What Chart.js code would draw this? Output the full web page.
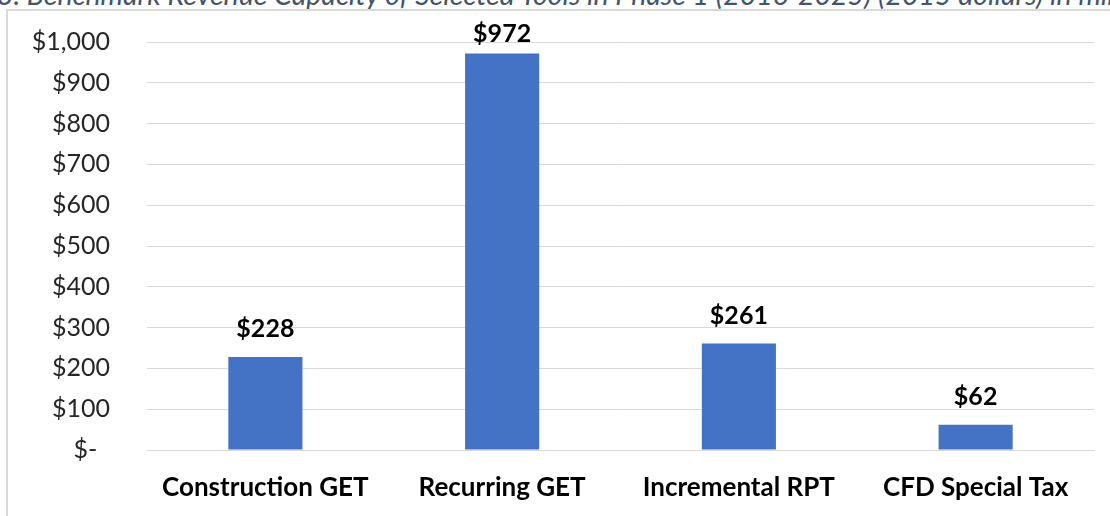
<!DOCTYPE html>
<html>
<head>
<meta charset="utf-8">
<script src="https://cdn.jsdelivr.net/npm/chart.js@4"></script>
<style>
  html, body { margin: 0; padding: 0; background: #fff; overflow: hidden; }
  body { width: 1110px; height: 516px; position: relative; }
  .caption {
    position: absolute; left: -3px; top: -23px; white-space: nowrap;
    font-family: Lato, "Open Sans", sans-serif; font-style: italic; font-size: 28.5px;
    line-height: 1.2; color: #44546A;
  }
  .frame {
    position: absolute; left: 6px; top: 9px; width: 1200px; height: 600px;
    border: 2px solid #D9D9D9;
  }
  .wrap { position: absolute; left: 0; top: 0; width: 1110px; height: 516px; }
</style>
</head>
<body>
<div class="caption">3. Benchmark Revenue Capacity of Selected Tools in Phase 1 (2016-2025) (2015 dollars) in millions</div>
<div class="frame"></div>
<div class="wrap"><canvas id="revenueChart"></canvas></div>
<script>
// Revenue capacity by tool, millions of 2015 dollars
const tools = ['Construction GET', 'Recurring GET', 'Incremental RPT', 'CFD Special Tax'];
const capacity = [228, 972, 261, 62];
const yTicks = [0, 100, 200, 300, 400, 500, 600, 700, 800, 900, 1000];

const fontFamily = 'Lato, "Open Sans", sans-serif';

function dollars(v) {
    if (v === 0) return '$-  ';
    return '$' + v.toLocaleString('en-US');
}

// Bold dollar labels above each bar, kept inside the plot area
const barLabels = {
    id: 'barLabels',
    afterDatasetsDraw(chart) {
        const ctx = chart.ctx;
        const top = chart.chartArea.top;
        ctx.save();
        ctx.font = 'bold 25px ' + fontFamily;
        ctx.fillStyle = '#000';
        ctx.textAlign = 'center';
        ctx.textBaseline = 'alphabetic';
        chart.getDatasetMeta(0).data.forEach((bar, i) => {
            const y = Math.max(bar.y - 20, top);
            ctx.fillText('$' + capacity[i], bar.x, y);
        });
        ctx.restore();
    }
};

const revenueChart = new Chart(document.getElementById('revenueChart'), {
    type: 'bar',
    data: {
        labels: tools,
        datasets: [{
            data: capacity,
            backgroundColor: '#4472C4',
            categoryPercentage: 1,
            barPercentage: 0.313
        }]
    },
    options: {
        responsive: true,
        maintainAspectRatio: false,
        animation: false,
        layout: { padding: { left: 0, right: 16, top: 42, bottom: 0 } },
        plugins: {
            legend: { display: false },
            tooltip: { enabled: false }
        },
        scales: {
            x: {
                grid: { display: false, drawTicks: false },
                border: { color: '#D9D9D9', width: 1 },
                ticks: {
                    color: '#000',
                    font: { family: fontFamily, size: 26, weight: 'bold' },
                    padding: 22
                },
                afterFit(scale) { scale.height = 66; }
            },
            y: {
                min: 0,
                max: 1000,
                afterBuildTicks(scale) { scale.ticks = yTicks.map(v => ({ value: v })); },
                // invisible tick marks leave the gap between labels and grid
                grid: { color: '#D9D9D9', lineWidth: 1, drawTicks: true, tickLength: 37, tickColor: 'rgba(0,0,0,0)' },
                border: { display: false },
                ticks: {
                    color: '#262626',
                    font: { family: fontFamily, size: 25 },
                    padding: 0,
                    callback: v => dollars(v)
                },
                afterFit(scale) { scale.width = 147; }
            }
        }
    },
    plugins: [barLabels]
});
</script>
</body>
</html>
